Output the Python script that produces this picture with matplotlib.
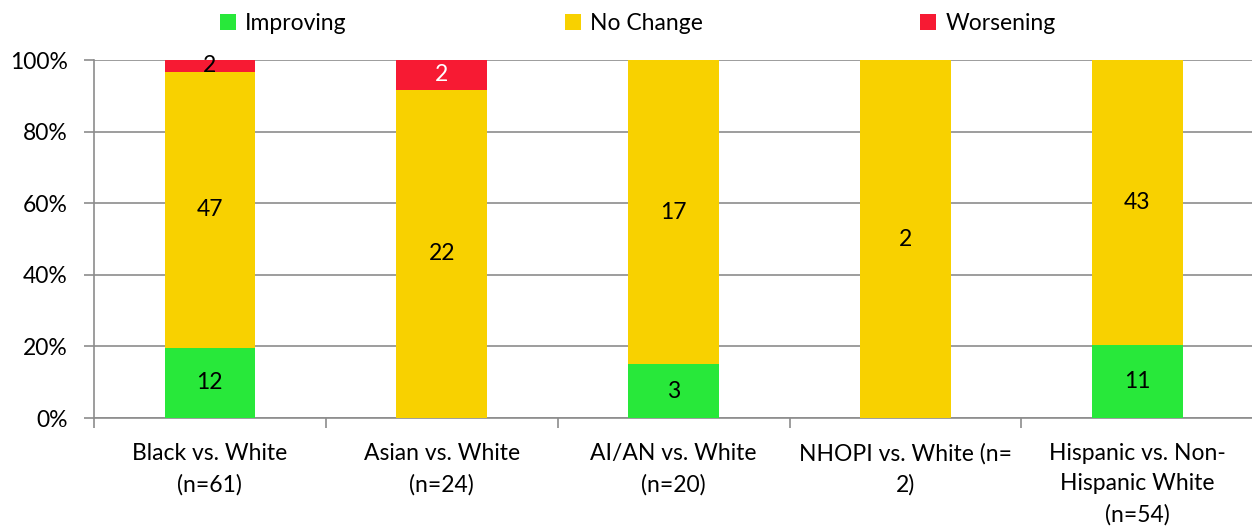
import matplotlib
matplotlib.use("Agg")
import matplotlib.pyplot as plt
import numpy as np

plt.rcParams['font.family'] = ['Lato', 'DejaVu Sans']

categories = ["Black vs. White\n(n=61)", "Asian vs. White\n(n=24)", "AI/AN vs. White\n(n=20)",
              "NHOPI vs. White (n=\n2)", "Hispanic vs. Non-\nHispanic White\n(n=54)"]
improving = [12, 0, 3, 0, 11]
no_change = [47, 22, 17, 2, 43]
worsening = [2, 2, 0, 0, 0]
series_names = ["Improving", "No Change", "Worsening"]
colors = ["#28E83A", "#F8D100", "#F71A33"]
label_colors = [["black"] * 5, ["black"] * 5, ["black", "white", "black", "black", "black"]]

FS = 16.5
fig = plt.figure(figsize=(12.52, 5.31), dpi=100)
ax = fig.add_axes([0.075, 0.2128, 0.926, 0.6742])

data = np.array([improving, no_change, worsening], dtype=float)
totals = data.sum(axis=0)
pct = data / totals * 100
x = np.arange(len(categories))
bottom = np.zeros(len(categories))
for i, name in enumerate(series_names):
    ax.bar(x, pct[i], 0.39, bottom=bottom, color=colors[i], label=name, zorder=3)
    for j in range(len(categories)):
        if data[i, j] > 0:
            ax.text(x[j], bottom[j] + pct[i, j] / 2, f"{int(data[i, j])}", ha="center", va="center",
                    fontsize=FS, color=label_colors[i][j], zorder=4)
    bottom += pct[i]

ax.set_xlim(-0.5, 4.5)
ax.set_ylim(0, 100)
ax.set_yticks(np.arange(0, 101, 20))
ax.set_yticklabels([f"{v}%" for v in range(0, 101, 20)], fontsize=FS)
ax.yaxis.grid(True, color="#8C8C8C", linewidth=1.2, zorder=0)
ax.set_xticks(x)
ax.set_xticklabels(categories, fontsize=FS, linespacing=1.55, va="top")
ax.tick_params(axis="x", length=0, pad=18)
ax.set_xticks(np.arange(-0.5, 5.0, 1.0), minor=True)
ax.tick_params(axis="x", which="minor", length=7, color="#8C8C8C", width=1.2)
ax.tick_params(axis="y", length=7, color="#8C8C8C", width=1.2, pad=12)
for s in ["top", "right"]:
    ax.spines[s].set_visible(False)
for s in ["left", "bottom"]:
    ax.spines[s].set_color("#8C8C8C")
    ax.spines[s].set_linewidth(1.2)

fig.legend(loc="upper left", bbox_to_anchor=(0.1757, 0.975), ncol=3, frameon=False, fontsize=FS,
           handlelength=0.7, handleheight=0.7, columnspacing=9.5, handletextpad=0.4,
           borderaxespad=0, borderpad=0)

fig.savefig("out.png", dpi=100)
